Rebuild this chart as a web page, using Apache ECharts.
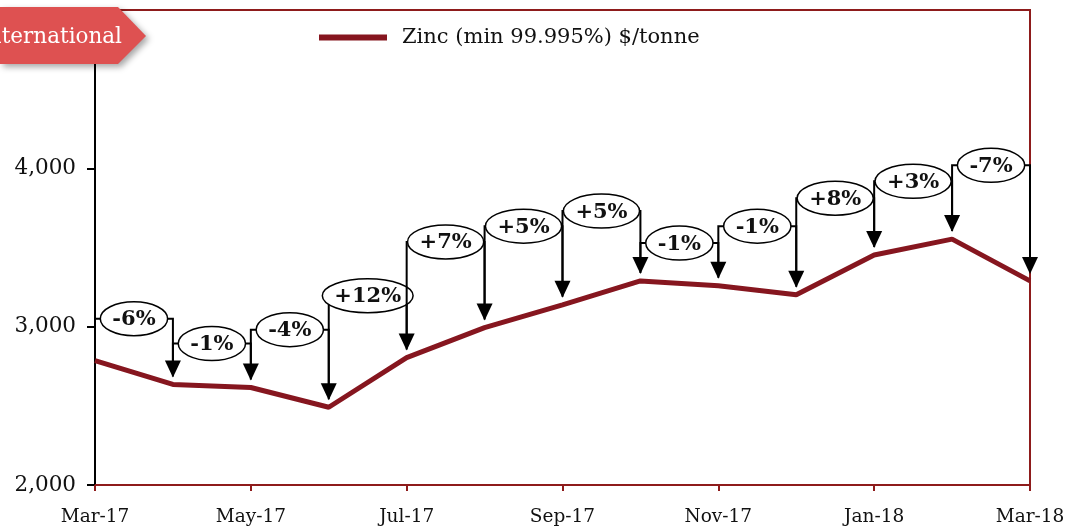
<!DOCTYPE html>
<html>
<head>
<meta charset="utf-8">
<script src="https://cdn.jsdelivr.net/npm/echarts@6/dist/echarts.min.js"></script>
<style>
  html, body { margin: 0; padding: 0; background: #fff; }
  #chart { width: 1065px; height: 527px; }
</style>
</head>
<body>
<div id="chart"></div>
<script>
// data
const months = ['Mar-17', 'Apr-17', 'May-17', 'Jun-17', 'Jul-17', 'Aug-17', 'Sep-17',
  'Oct-17', 'Nov-17', 'Dec-17', 'Jan-18', 'Feb-18', 'Mar-18'];
const zinc = [2785, 2635, 2616, 2491, 2805, 2994, 3138, 3289, 3258, 3201, 3453, 3553, 3289];
// month-on-month change labels and the value level each bracket sits at
const changeLabels = ['-6%', '-1%', '-4%', '+12%', '+7%', '+5%', '+5%', '-1%', '-1%', '+8%', '+3%', '-7%'];
const bracketLevel = [3050, 2893, 2981, 3195, 3535, 3635, 3730, 3528, 3635, 3811, 3918, 4019];

const serif = '"DejaVu Serif", Georgia, serif';
const lineRed = '#86161F';
const frameRed = '#8E1B1B';
const labelFont = 'bold 21px ' + serif;

const chart = echarts.init(document.getElementById('chart'));

const measure = document.createElement('canvas').getContext('2d');
measure.font = labelFont;

const bracketData = changeLabels.map(function (lab, i) {
  return [i, zinc[i], zinc[i + 1], bracketLevel[i]];
});

function renderBracket(params, api) {
  const i = api.value(0);
  const a = api.coord([i, api.value(1)]);
  const b = api.coord([i + 1, api.value(2)]);
  const top = api.coord([i, api.value(3)])[1];
  const lab = changeLabels[i];
  const rx = measure.measureText(lab).width / 2 + 12;
  const cx = (a[0] + b[0]) / 2;
  const tipY = b[1] - 7;
  return {
    type: 'group',
    children: [
      {
        type: 'polyline',
        shape: { points: [[a[0], a[1] - 8], [a[0], top], [b[0], top], [b[0], tipY - 14]] },
        style: { stroke: '#000', lineWidth: 2, fill: null }
      },
      {
        type: 'polygon',
        shape: { points: [[b[0] - 8, tipY - 17], [b[0] + 8, tipY - 17], [b[0], tipY]] },
        style: { fill: '#000' }
      },
      {
        type: 'ellipse',
        shape: { cx: cx, cy: top, rx: rx, ry: 17 },
        style: { fill: '#fff', stroke: '#000', lineWidth: 1.5 }
      },
      {
        type: 'text',
        style: {
          text: lab, x: cx, y: top + 1, align: 'center', verticalAlign: 'middle',
          font: labelFont, fill: '#111'
        }
      }
    ]
  };
}

const option = {
  animation: false,
  grid: {
    left: 95, right: 35, top: 10, bottom: 42,
    outerBoundsMode: 'none', containLabel: false,
    show: true, borderColor: frameRed, borderWidth: 2, backgroundColor: 'transparent'
  },
  legend: {
    top: 22, left: 314,
    itemWidth: 68, itemHeight: 6,
    icon: 'rect',
    textStyle: { fontFamily: serif, fontSize: 21, color: '#111', padding: [0, 0, 0, 10] },
    data: [{ name: 'Zinc (min 99.995%) $/tonne', icon: 'rect' }]
  },
  xAxis: {
    type: 'category',
    data: months,
    boundaryGap: false,
    axisLine: { lineStyle: { color: frameRed, width: 2 } },
    axisTick: { interval: 1, length: 6, lineStyle: { color: frameRed, width: 2 } },
    axisLabel: { interval: 1, margin: 23, fontFamily: serif, fontSize: 18.5, color: '#111' },
    splitLine: { show: false }
  },
  yAxis: {
    type: 'value',
    min: 2000, max: 5000, interval: 1000,
    axisLine: { show: true, lineStyle: { color: '#000', width: 2 } },
    axisTick: { show: true, length: 8, lineStyle: { color: '#000', width: 2 } },
    axisLabel: {
      margin: 19, fontFamily: serif, fontSize: 21.5, color: '#111', showMaxLabel: false,
      formatter: function (v) { return v.toLocaleString('en-US'); }
    },
    splitLine: { show: false }
  },
  series: [
    {
      name: 'Zinc (min 99.995%) $/tonne',
      type: 'line',
      data: zinc,
      symbol: 'none',
      lineStyle: { color: lineRed, width: 5 },
      itemStyle: { color: lineRed },
      z: 3
    },
    {
      type: 'custom',
      data: bracketData,
      renderItem: renderBracket,
      clip: false,
      silent: true,
      z: 4
    }
  ],
  graphic: [
    {
      type: 'polygon',
      z: 100,
      shape: { points: [[0, 7], [118, 7], [146, 36], [118, 64], [0, 64]] },
      style: { fill: '#DE5151', shadowBlur: 6, shadowColor: 'rgba(0,0,0,0.35)', shadowOffsetX: 3, shadowOffsetY: 3 }
    },
    {
      type: 'text',
      z: 101,
      x: 122, y: 37,
      style: { text: 'International', align: 'right', verticalAlign: 'middle',
        font: '21.5px ' + serif, fill: '#fff' }
    }
  ]
};

chart.setOption(option);
</script>
</body>
</html>
